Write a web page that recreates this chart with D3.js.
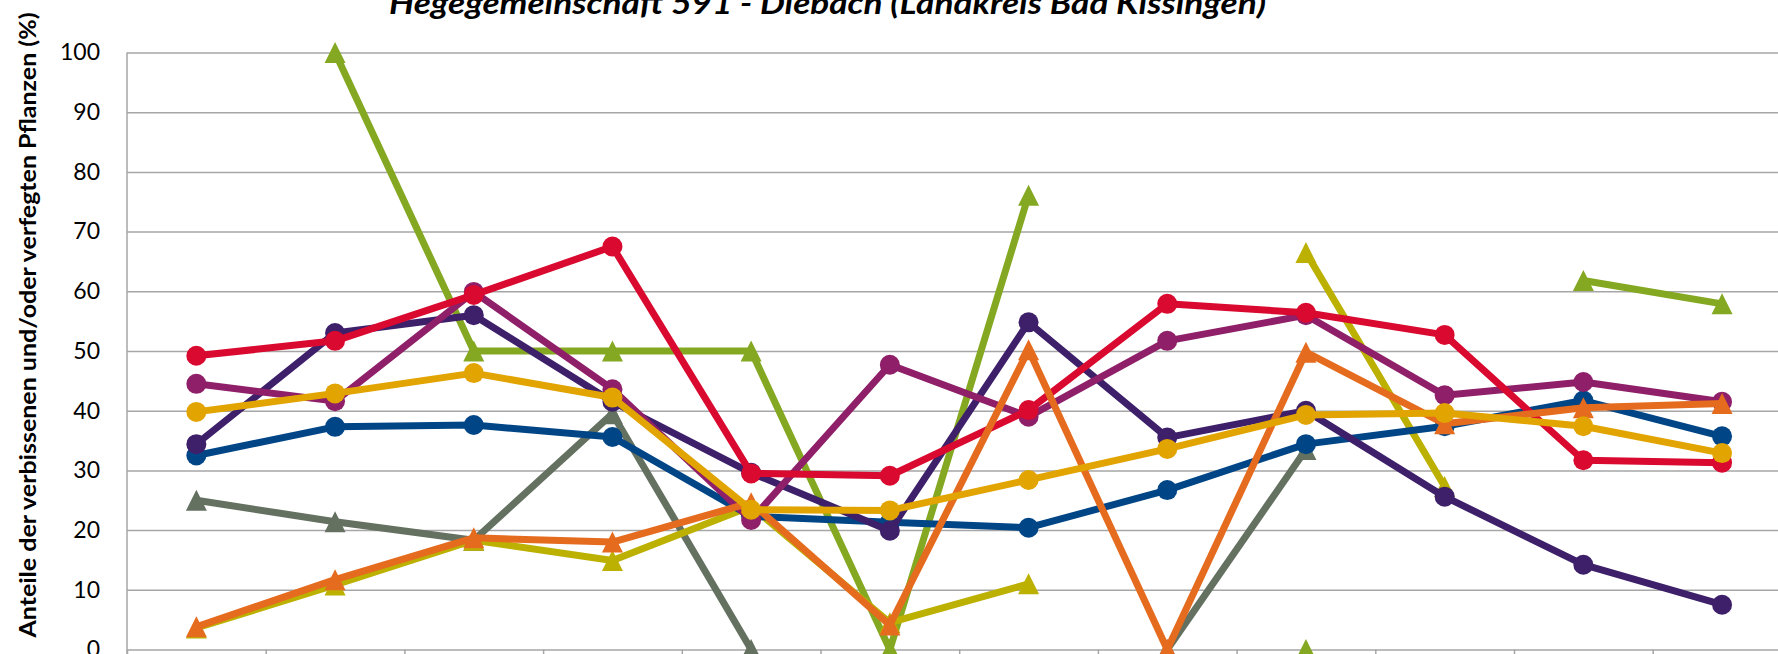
<!DOCTYPE html>
<html>
<head>
<meta charset="utf-8">
<script src="https://cdn.jsdelivr.net/npm/d3@7"></script>
<style>
  html, body { margin: 0; padding: 0; background: #fff; overflow: hidden; }
  svg { display: block; font-family: Lato, "Open Sans", sans-serif; }
</style>
</head>
<body>
<div class="chart"></div>
<script>
// Aufnahmejahre (x labels are below the visible area)
const years = ['1991', '1994', '1997', '2000', '2003', '2006', '2009', '2012', '2015', '2018', '2021', '2024'];
const yTicks = [0, 10, 20, 30, 40, 50, 60, 70, 80, 90, 100];

// series values (%), null = no value
const gruen = [null, 100, 50, 50, 50, 0, 76.1, null, 0, null, 61.8, 57.9];
const grau = [25.0, 21.4, 18.3, 39.5, 0, null, null, 0, 33.5, null, null, null];
const oliv = [3.6, 10.8, 18.3, 14.9, 24.0, 4.5, 11.0, null, 66.5, 27.3, null, null];
const blau = [32.5, 37.3, 37.6, 35.6, 22.3, 21.3, 20.4, 26.7, 34.4, 37.4, 41.7, 35.7];
const dunkelviolett = [34.4, 53.0, 56.0, 41.5, 29.6, 19.9, 54.8, 35.5, 40.0, 25.6, 14.2, 7.5];
const violett = [44.5, 41.6, 59.9, 43.6, 21.7, 47.7, 39.0, 51.7, 56.0, 42.6, 44.8, 41.5];
const rot = [49.2, 51.7, 59.4, 67.5, 29.5, 29.1, 40.1, 57.9, 56.4, 52.7, 31.7, 31.3];
const orange = [3.8, 11.7, 18.7, 18.0, 24.6, 4.1, 50.2, 0, 49.8, 37.8, 40.5, 41.2];
const gold = [39.8, 42.9, 46.3, 42.2, 23.4, 23.3, 28.4, 33.6, 39.3, 39.6, 37.4, 32.9];

const seriesList = [
  {name: 'gruen', values: gruen, color: '#84a821', marker: 'triangle'},
  {name: 'grau', values: grau, color: '#647060', marker: 'triangle'},
  {name: 'oliv', values: oliv, color: '#bcb000', marker: 'triangle'},
  {name: 'blau', values: blau, color: '#004586', marker: 'circle'},
  {name: 'dunkelviolett', values: dunkelviolett, color: '#3d1f6a', marker: 'circle'},
  {name: 'violett', values: violett, color: '#8e1f68', marker: 'circle'},
  {name: 'rot', values: rot, color: '#d9092f', marker: 'circle'},
  {name: 'orange', values: orange, color: '#e56b1f', marker: 'triangle'},
  {name: 'gold', values: gold, color: '#e2a400', marker: 'circle'}
];

const width = 1778;
const height = 654;
const margin = {left: 127, top: 52.5, bottom: 4.5};
const band = 138.7;
const plotRight = margin.left + band * years.length;

const svg = d3.select('.chart').append('svg')
  .attr('width', width).attr('height', height);

const x = d3.scaleBand().domain(years).range([margin.left, plotRight]).padding(0);
const y = d3.scaleLinear().domain([0, 100]).range([height - margin.bottom, margin.top]);
const cx = d => x(d) + x.bandwidth() / 2;

// gridlines + y labels
const yAxis = svg.append('g')
  .attr('transform', `translate(${margin.left},0)`)
  .call(d3.axisLeft(y).tickValues(yTicks).tickSize(-(width - margin.left)).tickPadding(27));
yAxis.select('.domain').remove();
yAxis.selectAll('.tick line').attr('stroke', '#a6a6a6').attr('stroke-width', 1.5);
yAxis.selectAll('.tick text')
  .attr('fill', '#000').style('font-size', '23px').style('font-family', 'Lato, sans-serif');

svg.append('line')
  .attr('x1', margin.left).attr('x2', margin.left)
  .attr('y1', y(100)).attr('y2', height)
  .attr('stroke', '#a6a6a6').attr('stroke-width', 1.5);

// x axis: ticks at category boundaries
const xEdge = d3.scaleLinear().domain([0, years.length]).range([margin.left, plotRight]);
const xAxis = svg.append('g')
  .attr('transform', `translate(0,${y(0)})`)
  .call(d3.axisBottom(xEdge).tickValues(d3.range(years.length + 1)).tickSize(6).tickFormat(''));
xAxis.select('.domain').remove();
xAxis.selectAll('.tick line').attr('stroke', '#a6a6a6').attr('stroke-width', 1.5);

// triangle marker centred on its bounding box
const triangle = {
  draw(context, size) {
    const h = Math.sqrt(size);
    context.moveTo(0, -h / 2);
    context.lineTo(h / 2, h / 2);
    context.lineTo(-h / 2, h / 2);
    context.closePath();
  }
};

const line = d3.line()
  .defined(d => d.v != null)
  .x(d => cx(d.year))
  .y(d => y(d.v));

seriesList.forEach(s => {
  const pts = years.map((yr, i) => ({year: yr, v: s.values[i]}));
  const g = svg.append('g').attr('class', 'series ' + s.name);
  g.append('path')
    .datum(pts)
    .attr('d', line)
    .attr('fill', 'none')
    .attr('stroke', s.color)
    .attr('stroke-width', 7)
    .attr('stroke-linejoin', 'round');

  const valid = pts.filter(d => d.v != null);
  if (s.marker === 'circle') {
    g.selectAll('circle').data(valid).enter().append('circle')
      .attr('cx', d => cx(d.year))
      .attr('cy', d => y(d.v))
      .attr('r', 10)
      .attr('fill', s.color);
  } else {
    g.selectAll('.tri').data(valid).enter().append('path')
      .attr('class', 'tri')
      .attr('d', d3.symbol().type(triangle).size(21 * 21))
      .attr('transform', d => `translate(${cx(d.year)},${y(d.v)})`)
      .attr('fill', s.color);
  }
});

// title (cut at the top edge as in the picture)
svg.append('text')
  .attr('x', 827.5).attr('y', 13.5)
  .attr('text-anchor', 'middle')
  .attr('textLength', 877).attr('lengthAdjust', 'spacingAndGlyphs')
  .style('font-size', '30px').style('font-weight', 'bold').style('font-style', 'italic')
  .text('Hegegemeinschaft 591 - Diebach (Landkreis Bad Kissingen)');

// y axis title
svg.append('text')
  .attr('transform', 'translate(36,325) rotate(-90)')
  .attr('text-anchor', 'middle')
  .attr('textLength', 625).attr('lengthAdjust', 'spacingAndGlyphs')
  .style('font-size', '23px').style('font-weight', 'bold')
  .text('Anteile der verbissenen und/oder verfegten Pflanzen (%)');
</script>
</body>
</html>
